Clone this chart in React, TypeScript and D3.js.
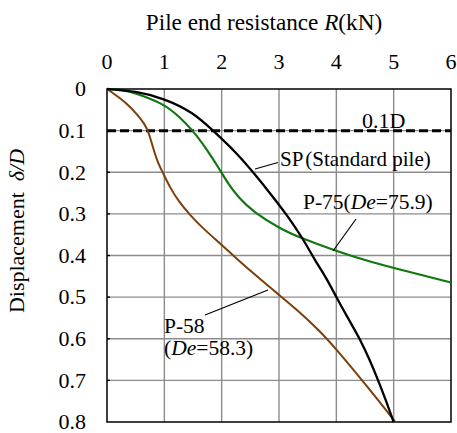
import React from 'react';
import * as d3 from 'd3';

// values: [R (kN), delta/D]
const spData: [number, number][] = [
  [0, 0], [0.5, 0.005], [1, 0.023], [1.5, 0.056], [1.85, 0.1], [2.25, 0.152],
  [2.55, 0.2], [2.9, 0.26], [3.15, 0.305], [3.42, 0.36], [3.62, 0.41],
  [3.83, 0.455], [4.0, 0.5], [4.2, 0.55], [4.41, 0.6], [4.58, 0.65],
  [4.73, 0.7], [4.87, 0.75], [5.0, 0.8],
];
const p75Data: [number, number][] = [
  [0, 0], [0.3, 0.003], [0.5, 0.01], [1, 0.036], [1.27, 0.068], [1.5, 0.1],
  [1.75, 0.147], [1.95, 0.19], [2.1, 0.225], [2.3, 0.262], [2.55, 0.295],
  [3.02, 0.336], [3.42, 0.36], [3.95, 0.387], [4.53, 0.413], [5.11, 0.434],
  [5.58, 0.45], [6.0, 0.465],
];
const p58Data: [number, number][] = [
  [0, 0], [0.23, 0.022], [0.4, 0.042], [0.55, 0.065], [0.66, 0.085], [0.73, 0.105],
  [0.8, 0.14], [0.88, 0.175], [0.97, 0.2], [1.1, 0.237], [1.25, 0.27],
  [1.45, 0.303], [1.65, 0.332], [2.03, 0.378], [2.2, 0.4], [2.61, 0.45],
  [3.02, 0.497], [3.37, 0.537], [3.7, 0.58], [4.0, 0.625], [4.53, 0.713],
  [5.03, 0.8],
];
const xTicks = [0, 1, 2, 3, 4, 5, 6];
const yTicks = [0, 0.1, 0.2, 0.3, 0.4, 0.5, 0.6, 0.7, 0.8];
const criterion = 0.1;

const W = 457, H = 433;
const margin = {left: 107, right: 6, top: 89, bottom: 11};
const font = "'Liberation Serif', 'Times New Roman', serif";

const App = () => {
  const x = d3.scaleLinear().domain([0, 6]).range([margin.left, W - margin.right]);
  const y = d3.scaleLinear().domain([0, 0.8]).range([margin.top, H - margin.bottom]);

  const line = d3.line<[number, number]>()
    .x(d => x(d[0]))
    .y(d => y(d[1]))
    .curve(d3.curveBasis);

  return (
    <svg width={W} height={H} style={{position: 'absolute', left: 0, top: 0, fontFamily: font}}>
      <rect x={0} y={0} width={W} height={H} fill="#fff"/>
      {/* grid */}
      {xTicks.slice(1, -1).map(t => (
        <line key={'gx' + t} x1={x(t)} x2={x(t)} y1={y(0)} y2={y(0.8)} stroke="#8c8c8c" strokeWidth={1.4}/>
      ))}
      {yTicks.slice(1, -1).map(t => (
        <line key={'gy' + t} x1={x(0)} x2={x(6)} y1={y(t)} y2={y(t)} stroke="#8c8c8c" strokeWidth={1.4}/>
      ))}
      {yTicks.slice(1, -1).map(t => (
        <line key={'ty' + t} x1={x(0)} x2={x(0) + 3} y1={y(t)} y2={y(t)} stroke="#000" strokeWidth={1.4}/>
      ))}
      <rect x={x(0)} y={y(0)} width={x(6) - x(0)} height={y(0.8) - y(0)} fill="none" stroke="#000" strokeWidth={1.5}/>

      {/* 0.1D line */}
      <line x1={x(0)} x2={x(6)} y1={y(criterion)} y2={y(criterion)} stroke="#000" strokeWidth={3} strokeDasharray="9,4"/>

      {/* curves */}
      <path d={line(p58Data) || ''} fill="none" stroke="#7b3f0c" strokeWidth={2}/>
      <path d={line(p75Data) || ''} fill="none" stroke="#117711" strokeWidth={2.2}/>
      <path d={line(spData) || ''} fill="none" stroke="#000" strokeWidth={2.3}/>

      {/* axis labels */}
      {xTicks.map(t => (
        <text key={'xl' + t} x={x(t)} y={69} fontSize={22} textAnchor="middle" fontFamily={font}>{t}</text>
      ))}
      {yTicks.map(t => (
        <text key={'yl' + t} x={86} y={y(t)} dy="0.33em" fontSize={22} textAnchor="end" fontFamily={font}>{t}</text>
      ))}
      <text x={264} y={30} fontSize={23.2} textAnchor="middle" fontFamily={font}>
        Pile end resistance <tspan fontStyle="italic">R</tspan>(kN)
      </text>
      <text transform="translate(24,231) rotate(-90)" fontSize={22} textAnchor="middle" fontFamily={font}>
        Displacement{'\u00a0\u00a0'}<tspan fontStyle="italic">δ/D</tspan>
      </text>

      {/* annotations */}
      <text x={362} y={128} fontSize={22} fontFamily={font}>0.1D</text>
      <line x1={278} y1={162.5} x2={255} y2={169} stroke="#000" strokeWidth={1.2}/>
      <text x={280} y={166} fontSize={21} fontFamily={font}>SP<tspan dx={2}>(</tspan>Standard pile)</text>
      <line x1={356} y1={219} x2={333} y2={251} stroke="#000" strokeWidth={1.2}/>
      <text x={303} y={209} fontSize={21.5} fontFamily={font}>
        P-75(<tspan fontStyle="italic">De</tspan>=75.9)
      </text>
      <line x1={205} y1={315} x2={268} y2={290} stroke="#000" strokeWidth={1.2}/>
      <text x={164} y={333} fontSize={21.5} fontFamily={font}>P-58</text>
      <text x={164} y={355} fontSize={21.5} fontFamily={font}>
        (<tspan fontStyle="italic">De</tspan>=58.3)
      </text>
    </svg>
  );
};

export default App;
